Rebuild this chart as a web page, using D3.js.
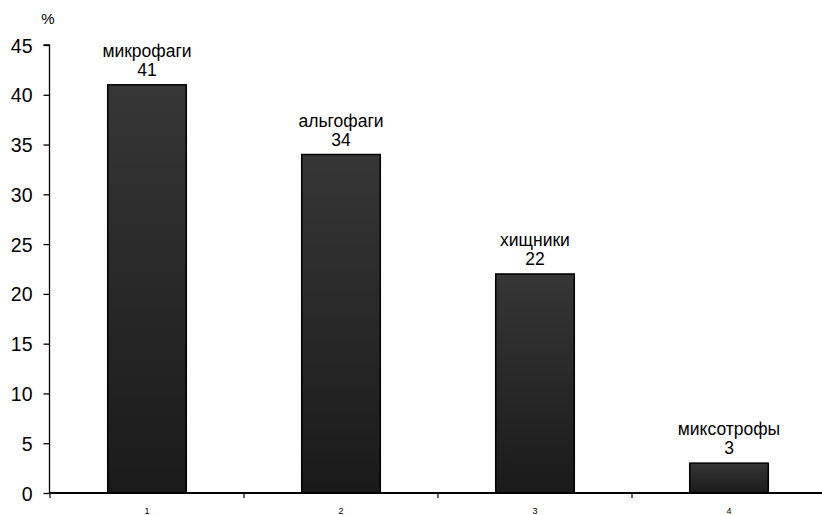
<!DOCTYPE html>
<html><head><meta charset="utf-8">
<script src="https://cdn.jsdelivr.net/npm/d3@7"></script>
<style>body{margin:0;background:#fff}svg{display:block}text{font-family:"Liberation Sans",Arial,sans-serif}</style>
</head><body>
<svg id="c" width="822" height="515"></svg>
<script>
const categories = ["1","2","3","4"];
const groupNames = ["микрофаги","альгофаги","хищники","миксотрофы"];
const values = [41,34,22,3];
const yTicks = [0,5,10,15,20,25,30,35,40,45];

const svg = d3.select("#c");
const x = d3.scaleBand().domain(categories).range([50,826]).paddingInner(0.595).paddingOuter(0.2975);
const y = d3.scaleLinear().domain([0,45]).range([493,45]);

const defs = svg.append("defs");
const g = defs.append("linearGradient").attr("id","bg").attr("x1",0).attr("y1",0).attr("x2",0).attr("y2",1);
g.append("stop").attr("offset","0%").attr("stop-color","#363636");
g.append("stop").attr("offset","100%").attr("stop-color","#1a1a1a");

// bars
svg.selectAll("rect.bar").data(values).enter().append("rect")
  .attr("x",(d,i)=>x(categories[i]))
  .attr("y",d=>y(d))
  .attr("width",x.bandwidth())
  .attr("height",d=>y(0)-y(d))
  .attr("fill","url(#bg)")
  .attr("stroke","#000").attr("stroke-width",1.5);

// y axis
const ya = svg.append("g").attr("transform","translate(49.5,0)")
  .call(d3.axisLeft(y).tickValues(yTicks).tickSize(6).tickPadding(11));
ya.select(".domain").attr("stroke","#000").attr("stroke-width",1.3).attr("d","M-6,"+y(45)+"H0V"+y(0));
ya.selectAll(".tick line").attr("stroke","#000").attr("stroke-width",1.3);
ya.selectAll(".tick text").attr("font-size",19.5).attr("fill","#000").attr("font-family","Liberation Sans, Arial, sans-serif").attr("dy","0.36em");

// x axis
const xa = svg.append("g").attr("transform","translate(0,493)");
xa.append("line").attr("x1",49.5).attr("x2",822).attr("y1",0).attr("y2",0).attr("stroke","#000").attr("stroke-width",2);
const bounds = [0,1,2,3,4].map(i=>50+i*x.step());
xa.selectAll("line.t").data(bounds.slice(0,4)).enter().append("line")
  .attr("x1",d=>d).attr("x2",d=>d).attr("y1",0).attr("y2",5).attr("stroke","#000").attr("stroke-width",1.2);
xa.selectAll("text.xl").data(categories).enter().append("text")
  .attr("x",d=>x(d)+x.bandwidth()/2).attr("y",21).attr("text-anchor","middle")
  .attr("font-size",9).attr("fill","#000").text(d=>d);

// labels
svg.selectAll("text.name").data(values).enter().append("text")
  .attr("x",(d,i)=>x(categories[i])+x.bandwidth()/2)
  .attr("y",d=>y(d)-28).attr("text-anchor","middle").attr("font-size",17.5).attr("fill","#000")
  .text((d,i)=>groupNames[i]);
svg.selectAll("text.val").data(values).enter().append("text")
  .attr("x",(d,i)=>x(categories[i])+x.bandwidth()/2)
  .attr("y",d=>y(d)-9).attr("text-anchor","middle").attr("font-size",17.5).attr("fill","#000")
  .text(d=>d);

svg.append("text").attr("x",48).attr("y",24).attr("text-anchor","middle").attr("font-size",15).attr("fill","#000").text("%");
</script>
</body></html>
